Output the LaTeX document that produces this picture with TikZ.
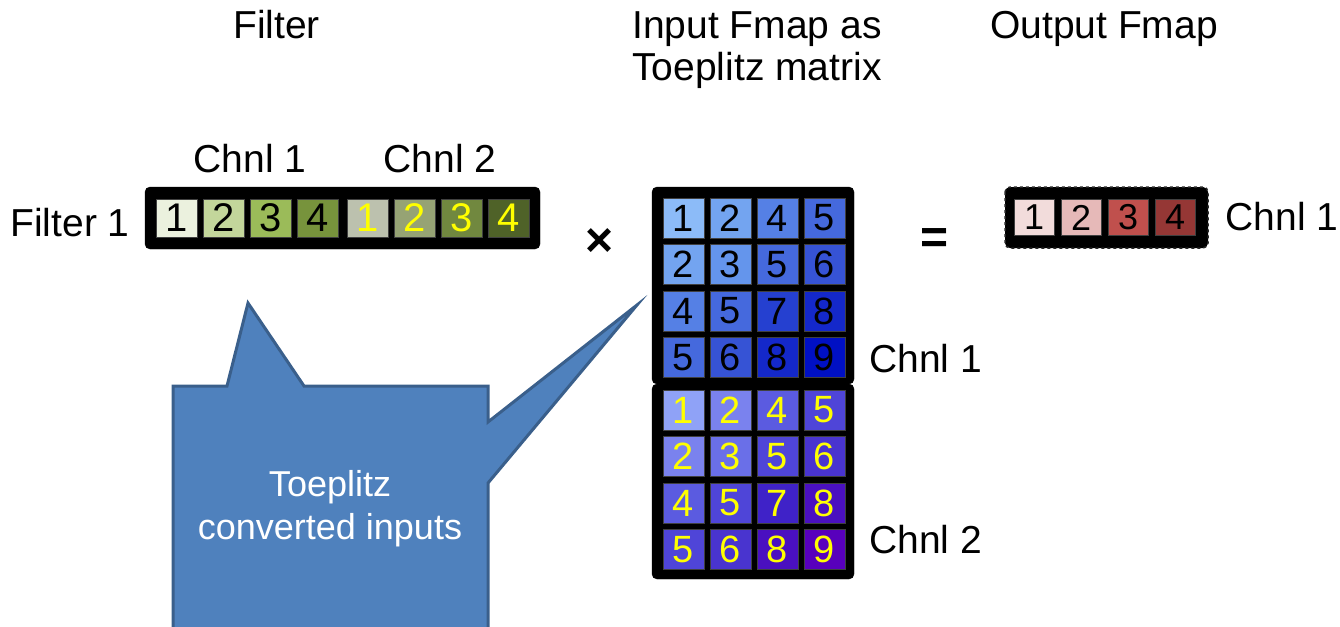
\documentclass[tikz,border=0pt]{standalone}
\usepackage{fontspec}
\setmainfont{Liberation Sans}

% filter weights, channel 1 and channel 2
\definecolor{fa1}{HTML}{EBF1DE}
\definecolor{fa2}{HTML}{C3D69B}
\definecolor{fa3}{HTML}{9BBB59}
\definecolor{fa4}{HTML}{77933C}
\definecolor{fb1}{HTML}{BCC1AE}
\definecolor{fb2}{HTML}{96A374}
\definecolor{fb3}{HTML}{71883F}
\definecolor{fb4}{HTML}{4F6228}
% input fmap, channel 1 (by value)
\definecolor{t1}{HTML}{8CBBF8}
\definecolor{t2}{HTML}{73A4F0}
\definecolor{t3}{HTML}{6495EC}
\definecolor{t4}{HTML}{5580E5}
\definecolor{t5}{HTML}{4569DD}
\definecolor{t6}{HTML}{3653D5}
\definecolor{t7}{HTML}{2540D0}
\definecolor{t8}{HTML}{1428CA}
\definecolor{t9}{HTML}{0010C4}
% input fmap, channel 2 (by value)
\definecolor{b1}{HTML}{8FA2F7}
\definecolor{b2}{HTML}{7A82EE}
\definecolor{b3}{HTML}{6A6FE8}
\definecolor{b4}{HTML}{5B5BE0}
\definecolor{b5}{HTML}{4F45D8}
\definecolor{b6}{HTML}{4934CF}
\definecolor{b7}{HTML}{3F22C8}
\definecolor{b8}{HTML}{4A10C0}
\definecolor{b9}{HTML}{5800BC}
% output fmap
\definecolor{o1}{HTML}{F2DCDB}
\definecolor{o2}{HTML}{E6B9B8}
\definecolor{o3}{HTML}{C0504D}
\definecolor{o4}{HTML}{953735}
% callout
\definecolor{calfill}{HTML}{4F81BD}
\definecolor{caledge}{HTML}{3A5F8B}
\definecolor{yel}{HTML}{FFFF00}

\begin{document}
\begin{tikzpicture}[x=1pt,y=-1pt,
  lbl/.style={font=\fontsize{39}{44}\selectfont, inner sep=0pt},
  frame/.style={fill=black, draw=black, rounded corners=5pt},
  cellbase/.style={draw=black!75, line width=0.8pt, inner sep=0pt, anchor=center},
  fcell/.style={cellbase, minimum width=41pt, minimum height=38pt, font=\fontsize{40}{40}\selectfont},
  mcell/.style={cellbase, minimum width=41pt, minimum height=40pt, font=\fontsize{38}{38}\selectfont},
  ocell/.style={cellbase, minimum width=40pt, minimum height=36pt, font=\fontsize{36}{36}\selectfont},
  callout/.style={fill=calfill, draw=caledge, line width=3pt, line join=miter},
  op/.style={font=\fontsize{48}{48}\selectfont\bfseries, inner sep=0pt}
]
\clip (0,0) rectangle (1340,626);

% headings
\node[lbl, anchor=base] (hfilter) at (276.5,39) {Filter};
\node[lbl, anchor=base] (hin1) at (757,38) {Input Fmap as};
\node[lbl, anchor=base] (hin2) at (757,80) {Toeplitz matrix};
\node[lbl, anchor=base] (hout) at (1104,38) {Output Fmap};

% filter row
\node[lbl, anchor=base] (fc1) at (250,172) {Chnl 1};
\node[lbl, anchor=base] (fc2) at (440,172) {Chnl 2};
\node[lbl, anchor=base] (frow) at (70,236) {Filter 1};
\draw[frame] (145,187) rectangle (540,249);
\foreach \i in {1,...,4}{
  \node[fcell, fill=fa\i] (fa\i) at ({177+47*(\i-1)},218) {\i};
  \node[fcell, fill=fb\i, text=yel] (fb\i) at ({368+47*(\i-1)},218) {\i};
}

% operators
\node[op] (times) at (600,243) {×};
\node[op] (equals) at (935,241) {=};

% input fmap as Toeplitz matrix
\draw[frame] (652,187) rectangle (854,384);
\draw[frame] (652,384) rectangle (854,579);
\foreach \vals [count=\r] in {{1,2,4,5},{2,3,5,6},{4,5,7,8},{5,6,8,9}}{
  \foreach \v [count=\c] in \vals {
    \node[mcell, fill=t\v] (ta\r\c) at ({683.5+47*(\c-1)},{218+46.5*(\r-1)}) {\v};
    \node[mcell, fill=b\v, text=yel] (tb\r\c) at ({683.5+47*(\c-1)},{410+46.5*(\r-1)}) {\v};
  }
}
\node[lbl, anchor=base west] (mc1) at (869,372) {Chnl 1};
\node[lbl, anchor=base west] (mc2) at (869,553) {Chnl 2};

% output fmap
\draw[frame, draw=black!85, dashed, line width=1.5pt] (1005,187) rectangle (1208,248);
\foreach \i in {1,...,4}{
  \node[ocell, fill=o\i] (o\i) at ({1034+47*(\i-1)},217.5) {\i};
}
\node[lbl, anchor=base] (oc1) at (1282,230) {Chnl 1};

% callout with two pointers
\draw[callout] (173,640) -- (173,386) -- (227,386) -- (248,303) -- (304,386)
  -- (488,386) -- (488,422) -- (637,305) -- (488,483) -- (488,640) -- cycle;
\node[lbl, text=white, align=center, font=\fontsize{36}{43}\selectfont] (ctext) at (330,509)
  {Toeplitz\\converted inputs};
\end{tikzpicture}
\end{document}
